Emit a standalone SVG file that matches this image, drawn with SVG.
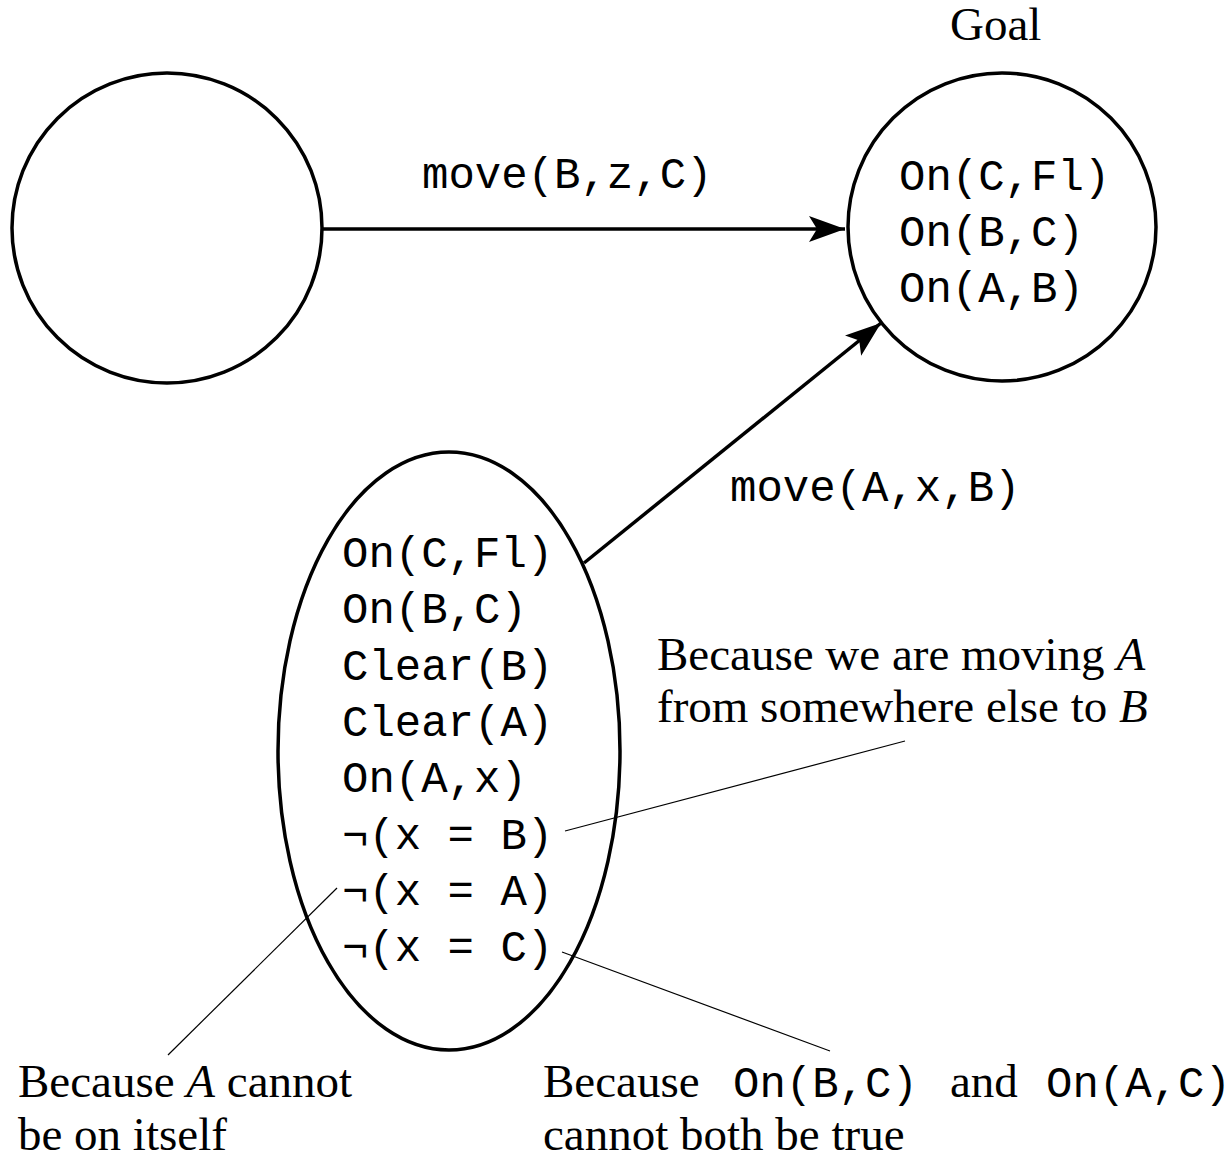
<svg xmlns="http://www.w3.org/2000/svg" width="1231" height="1158" viewBox="0 0 1231 1158">
<style>
.node{fill:none;stroke:#000;stroke-width:3.5}
.edge{stroke:#000;stroke-width:3.5;fill:none}
.callout{stroke:#000;stroke-width:1.2;fill:none}
.mono{font-family:"Liberation Mono","Courier New",monospace;font-size:44px;fill:#000}
.serif{font-family:"Liberation Serif","Times New Roman",serif;font-size:47px;fill:#000}
.it{font-style:italic}
</style>
<defs>
<marker id="arrow" markerUnits="userSpaceOnUse" markerWidth="40" markerHeight="30" refX="36" refY="13" orient="auto">
<path d="M0,0 L36,13 L0,26 L8,13 Z" fill="#000"/>
</marker>
</defs>
<rect width="1231" height="1158" fill="#fff"/>
<g id="start">
<ellipse class="node" cx="167" cy="228" rx="155" ry="155"/>
</g>
<g id="goal">
<circle class="node" cx="1002" cy="227" r="154"/>
<text class="serif" x="950" y="40">Goal</text>
<text class="mono" x="899" y="190">On(C,Fl)</text>
<text class="mono" x="899" y="246">On(B,C)</text>
<text class="mono" x="899" y="302">On(A,B)</text>
</g>
<g id="subgoal">
<ellipse class="node" cx="449" cy="751" rx="171" ry="299"/>
<text class="mono" x="342" y="567">On(C,Fl)</text>
<text class="mono" x="342" y="623">On(B,C)</text>
<text class="mono" x="342" y="680">Clear(B)</text>
<text class="mono" x="342" y="736">Clear(A)</text>
<text class="mono" x="342" y="792">On(A,x)</text>
<text class="mono" x="342" y="849">¬(x = B)</text>
<text class="mono" x="342" y="905">¬(x = A)</text>
<text class="mono" x="342" y="961">¬(x = C)</text>
</g>
<g id="connectors">
<line class="edge" x1="322" y1="229" x2="845" y2="229" marker-end="url(#arrow)"/>
<text class="mono" x="422" y="188">move(B,z,C)</text>
<line class="edge" x1="584" y1="563" x2="881" y2="323" marker-end="url(#arrow)"/>
<text class="mono" x="730" y="501">move(A,x,B)</text>
<line class="callout" x1="565" y1="831" x2="905" y2="741"/>
<line class="callout" x1="562" y1="952" x2="830" y2="1051"/>
<line class="callout" x1="337" y1="888" x2="168" y2="1055"/>
</g>
<g id="note-moving">
<text class="serif" x="657" y="670">Because we are moving <tspan class="it">A</tspan></text>
<text class="serif" x="657" y="722">from somewhere else to <tspan class="it">B</tspan></text>
</g>
<g id="note-itself">
<text class="serif" x="18" y="1097">Because <tspan class="it">A</tspan> cannot</text>
<text class="serif" x="18" y="1150">be on itself</text>
</g>
<g id="note-both">
<text class="serif" x="543" y="1097">Because</text>
<text class="mono" x="733" y="1097">On(B,C)</text>
<text class="serif" x="950" y="1097">and</text>
<text class="mono" x="1046" y="1097">On(A,C)</text>
<text class="serif" x="543" y="1150">cannot both be true</text>
</g>
</svg>
